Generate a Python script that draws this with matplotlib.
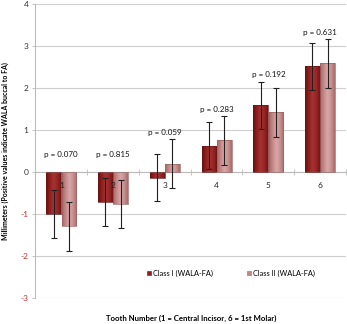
import numpy as np
import matplotlib
matplotlib.use("Agg")
import matplotlib.pyplot as plt
from matplotlib.colors import LinearSegmentedColormap
from matplotlib.patches import Patch

plt.rcParams['font.family'] = ['Lato', 'DejaVu Sans']

# mean WALA-FA distance per tooth, with standard deviation
teeth = [1, 2, 3, 4, 5, 6]
class1 = [-1.00, -0.72, -0.14, 0.62, 1.59, 2.52]
class1_sd = [0.57, 0.57, 0.56, 0.56, 0.56, 0.56]
class2 = [-1.29, -0.76, 0.20, 0.75, 1.42, 2.59]
class2_sd = [0.58, 0.58, 0.58, 0.58, 0.58, 0.58]
p_values = ["0.070", "0.815", "0.059", "0.283", "0.192", "0.631"]
series_names = ["Class I (WALA-FA)", "Class II (WALA-FA)"]

fig = plt.figure(figsize=(3.47, 3.24), dpi=100)
ax = fig.add_axes([0.102, 0.080, 0.895, 0.908])

x = np.array(teeth, dtype=float)
w = 0.285

# shaded fill for the bars (dark edges, lighter middle)
def shade_bars(bars, colors):
    cmap = LinearSegmentedColormap.from_list("shade", colors)
    grad = np.linspace(0, 1, 64).reshape(1, -1)
    for b in bars:
        x0, y0 = b.get_x(), b.get_y()
        bw, bh = b.get_width(), b.get_height()
        y_lo, y_hi = min(y0, y0 + bh), max(y0, y0 + bh)
        im = ax.imshow(grad, cmap=cmap, aspect='auto', extent=[x0, x0 + bw, y_lo, y_hi],
                       zorder=2, interpolation='bicubic')
        im.set_clip_path(b)
        b.set_facecolor('none')

c1_cols = ['#6a1010', '#8e1f1f', '#a53333', '#9a2626', '#741515']
c2_cols = ['#a86868', '#c48888', '#d8a9a9', '#c99090', '#a86a6a']

b1 = ax.bar(x - w / 2 - 0.005, class1, w, edgecolor='#6a1515', linewidth=0.5, zorder=3)
b2 = ax.bar(x + w / 2 + 0.005, class2, w, edgecolor='#9a6464', linewidth=0.5, zorder=3)
shade_bars(b1, c1_cols)
shade_bars(b2, c2_cols)

ax.errorbar(x - w / 2 - 0.005, class1, yerr=class1_sd, fmt='none', ecolor='#202020',
            elinewidth=0.8, capsize=2, capthick=0.8, zorder=4)
ax.errorbar(x + w / 2 + 0.005, class2, yerr=class2_sd, fmt='none', ecolor='#202020',
            elinewidth=0.8, capsize=2, capthick=0.8, zorder=4)

# p-values above each pair
for i, t in enumerate(teeth):
    top = max(class1[i] + class1_sd[i], class2[i] + class2_sd[i], 0.25)
    ax.text(t, top + 0.16, "p = " + p_values[i], ha='center', va='center',
            fontsize=5.8, color='#111111', zorder=5)
    # tooth number just under the zero line
    ax.text(t, -0.31, str(t), ha='center', va='center', fontsize=6, color='#222222', zorder=5)

ax.set_xlim(0.5, 6.5)
ax.set_ylim(-3, 4)
ax.set_yticks(range(-3, 5))
ax.set_yticklabels([str(v) for v in range(-3, 5)], fontsize=6)
for lab, v in zip(ax.get_yticklabels(), range(-3, 5)):
    lab.set_color('#c03030' if v < 0 else '#333333')
ax.tick_params(axis='y', length=2, width=0.6, color='#bbbbbb', pad=3)
ax.grid(axis='y', color='#cfcfcf', linewidth=0.8, zorder=0)
ax.set_axisbelow(True)

# x axis runs along zero, with ticks between teeth
ax.spines['bottom'].set_position(('data', 0))
ax.spines['bottom'].set_color('#bbbbbb')
ax.spines['left'].set_color('#bbbbbb')
for s in ['top', 'right']:
    ax.spines[s].set_visible(False)
ax.set_xticks(np.arange(1.5, 7.0, 1.0))
ax.set_xticklabels([])
ax.tick_params(axis='x', direction='inout', length=5, width=0.6, color='#bbbbbb')

ax.set_ylabel("Millimeters (Positive values indicate WALA buccal to FA)",
              fontsize=5.0, fontweight='bold', labelpad=8)
fig.text(0.55, 0.018, "Tooth Number (1 = Central Incisor, 6 = 1st Molar)",
         ha='center', va='center', fontsize=5.6, fontweight='bold')

handles = [Patch(facecolor='#8e1f1f', edgecolor='#6a1515', linewidth=0.4),
           Patch(facecolor='#c48888', edgecolor='#9a6464', linewidth=0.4)]
ax.legend(handles, series_names, ncol=2, frameon=False, fontsize=5.3,
          loc='center', bbox_to_anchor=(0.63, 0.085), handlelength=0.6,
          handleheight=0.6, handletextpad=0.3, columnspacing=4.5)

fig.savefig("out.png", dpi=100)
